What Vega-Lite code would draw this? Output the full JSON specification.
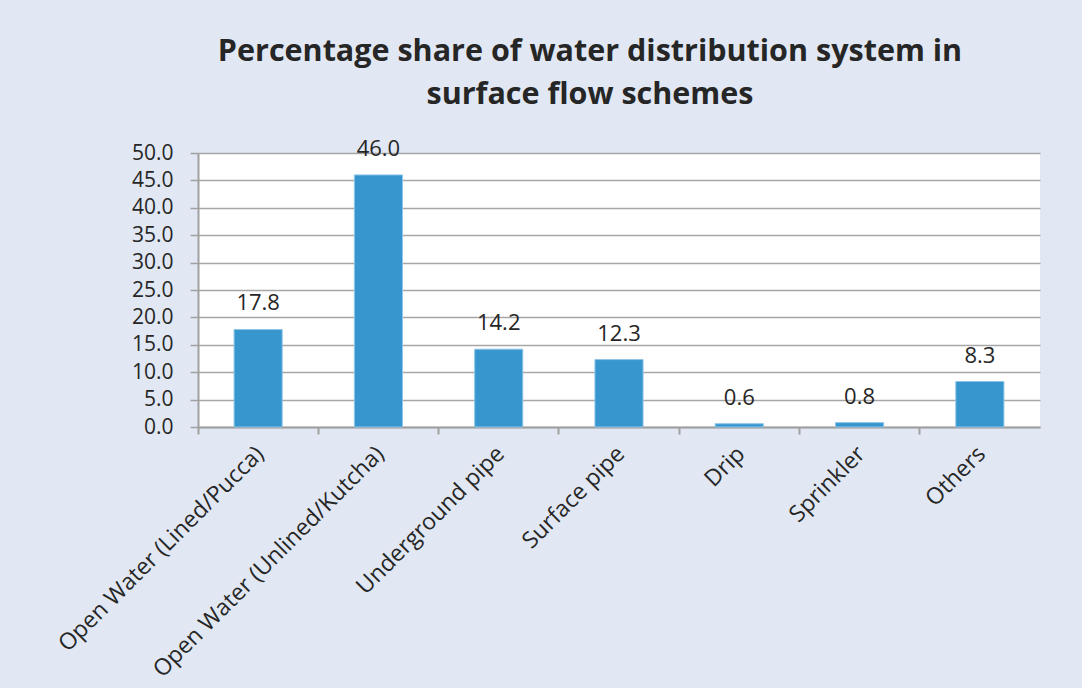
{
  "$schema": "https://vega.github.io/schema/vega-lite/v6.json",
  "width": 842,
  "height": 274,
  "autosize": "none",
  "padding": {"left": 198, "top": 153, "right": 42, "bottom": 261},
  "background": "#e1e8f3",
  "view": {"fill": "white", "stroke": null},
  "title": {
    "text": ["Percentage share of water distribution system in", "surface flow schemes"],
    "font": "Open Sans",
    "fontSize": 30.5,
    "fontWeight": "bold",
    "color": "#262626",
    "anchor": "middle",
    "dx": -29,
    "offset": 27,
    "lineHeight": 43
  },
  "data": {
    "values": [
      {"category": "Open Water (Lined/Pucca)", "value": 17.8},
      {"category": "Open Water (Unlined/Kutcha)", "value": 46.0},
      {"category": "Underground pipe", "value": 14.2},
      {"category": "Surface pipe", "value": 12.3},
      {"category": "Drip", "value": 0.6},
      {"category": "Sprinkler", "value": 0.8},
      {"category": "Others", "value": 8.3}
    ]
  },
  "encoding": {
    "x": {
      "field": "category",
      "type": "nominal",
      "sort": null,
      "scale": {"paddingInner": 0, "paddingOuter": 0},
      "axis": {
        "title": null,
        "labelAngle": -45,
        "labelAlign": "right",
        "labelBaseline": "middle",
        "labelFont": "Open Sans",
        "labelFontSize": 23,
        "labelColor": "#262626",
        "labelPadding": 16,
        "labelOverlap": false,
        "labelBound": false,
        "labelFlush": false,
        "labelLimit": 0,
        "bandPosition": 0,
        "labelOffset": 2,
        "tickSize": 7,
        "tickColor": "#a0a0a0",
        "tickWidth": 2,
        "domainColor": "#a0a0a0",
        "domainWidth": 2,
        "grid": false
      }
    },
    "y": {
      "field": "value",
      "type": "quantitative",
      "scale": {"domain": [0, 50], "nice": false},
      "axis": {
        "title": null,
        "values": [0, 5, 10, 15, 20, 25, 30, 35, 40, 45, 50],
        "format": ".1f",
        "labelFont": "Open Sans",
        "labelFontSize": 21,
        "labelColor": "#262626",
        "labelPadding": 17,
        "tickSize": 8,
        "tickColor": "#a0a0a0",
        "tickWidth": 1.5,
        "domainColor": "#a0a0a0",
        "domainWidth": 2,
        "grid": true,
        "gridColor": "#a6a6a6",
        "gridWidth": 1.5
      }
    }
  },
  "layer": [
    {
      "mark": {"type": "bar", "width": {"band": 0.4}, "color": "#3696cd", "stroke": "#8ec5e8", "strokeWidth": 1}
    },
    {
      "mark": {"type": "text", "dy": -19, "baseline": "alphabetic", "font": "Open Sans", "fontSize": 22, "color": "#262626"},
      "encoding": {"text": {"field": "value", "type": "quantitative", "format": ".1f"}}
    }
  ]
}
